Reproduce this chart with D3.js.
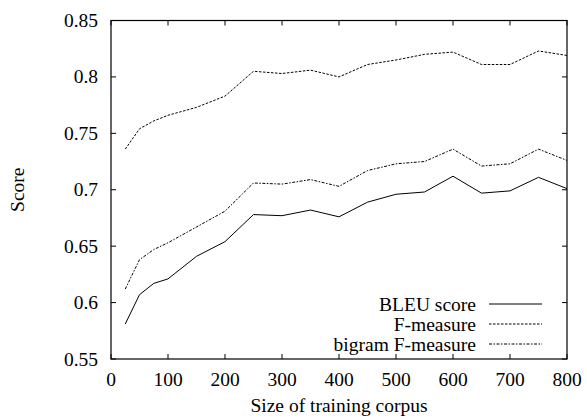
<!DOCTYPE html>
<html>
<head>
<meta charset="utf-8">
<script src="https://cdn.jsdelivr.net/npm/d3@7"></script>
<style>
  body { margin: 0; background: #fff; }
</style>
</head>
<body>
<script>
const WIDTH = 587;
const HEIGHT = 419;

// tamaños de corpus (eje x)
const sizes = [25, 50, 75, 100, 150, 200, 250, 300, 350, 400, 450, 500, 550, 600, 650, 700, 750, 800];

const bleu = [0.581, 0.607, 0.617, 0.621, 0.641, 0.654, 0.678, 0.677, 0.682, 0.676, 0.689, 0.696, 0.698, 0.712, 0.697, 0.699, 0.711, 0.701];
const fmeasure = [0.736, 0.754, 0.761, 0.766, 0.773, 0.783, 0.805, 0.803, 0.806, 0.800, 0.811, 0.815, 0.820, 0.822, 0.811, 0.811, 0.823, 0.819];
const bigram = [0.612, 0.638, 0.647, 0.653, 0.667, 0.681, 0.706, 0.705, 0.709, 0.703, 0.717, 0.723, 0.725, 0.736, 0.721, 0.723, 0.736, 0.726];

const xTicks = [0, 100, 200, 300, 400, 500, 600, 700, 800];
const yTicks = [0.55, 0.6, 0.65, 0.7, 0.75, 0.8, 0.85];

const series = [
  { name: 'BLEU score', values: bleu, dash: null },
  { name: 'F-measure', values: fmeasure, dash: '2.5,1.5' },
  { name: 'bigram F-measure', values: bigram, dash: '3,1.5,1.5,1.5' }
];

const margin = { left: 111, right: 20, top: 20.5, bottom: 60 };
const FONT = "'Liberation Serif'";
const fontSize = '19.5px';
const tick = 5;

let svg = d3.select('body').append('svg')
  .attr('width', WIDTH)
  .attr('height', HEIGHT);

let x = d3.scaleLinear().domain([0, 800]).range([margin.left, WIDTH - margin.right]);
let y = d3.scaleLinear().domain([0.55, 0.85]).range([HEIGHT - margin.bottom, margin.top]);

// ticks en los cuatro lados
let axes = svg.append('g').attr('stroke', '#000').attr('stroke-width', 1);
xTicks.forEach(t => {
  axes.append('line').attr('x1', x(t)).attr('x2', x(t)).attr('y1', y(0.55)).attr('y2', y(0.55) - tick);
  axes.append('line').attr('x1', x(t)).attr('x2', x(t)).attr('y1', y(0.85)).attr('y2', y(0.85) + tick);
});
yTicks.forEach(t => {
  axes.append('line').attr('x1', x(0)).attr('x2', x(0) + tick).attr('y1', y(t)).attr('y2', y(t));
  axes.append('line').attr('x1', x(800)).attr('x2', x(800) - tick).attr('y1', y(t)).attr('y2', y(t));
});

svg.selectAll('.xlab').data(xTicks).enter().append('text')
  .attr('x', d => x(d))
  .attr('y', y(0.55) + 27)
  .attr('text-anchor', 'middle')
  .style('font-family', FONT)
  .style('font-size', fontSize)
  .text(d => d);

svg.selectAll('.ylab').data(yTicks).enter().append('text')
  .attr('x', x(0) - 13)
  .attr('y', d => y(d) + 6.5)
  .attr('text-anchor', 'end')
  .style('font-family', FONT)
  .style('font-size', fontSize)
  .text(d => d);

// lineas
let line = d3.line()
  .x((d, i) => x(sizes[i]))
  .y(d => y(d));

series.forEach(s => {
  svg.append('path')
    .datum(s.values)
    .attr('d', line)
    .attr('fill', 'none')
    .attr('stroke', '#000')
    .attr('stroke-width', 1)
    .attr('stroke-dasharray', s.dash);
});

// marco
svg.append('rect')
  .attr('x', x(0)).attr('y', y(0.85))
  .attr('width', x(800) - x(0)).attr('height', y(0.55) - y(0.85))
  .attr('fill', 'none').attr('stroke', '#000').attr('stroke-width', 1.2);

// leyenda
series.forEach((s, i) => {
  let yy = 304 + i * 20;
  svg.append('text')
    .attr('x', 476).attr('y', yy + 6.5)
    .attr('text-anchor', 'end')
    .style('font-family', FONT)
    .style('font-size', fontSize)
    .text(s.name);
  svg.append('line')
    .attr('x1', 489).attr('x2', 542).attr('y1', yy).attr('y2', yy)
    .attr('stroke', '#000').attr('stroke-width', 1)
    .attr('stroke-dasharray', s.dash);
});

// titulos de ejes
svg.append('text')
  .attr('x', x(400)).attr('y', 412)
  .attr('text-anchor', 'middle')
  .style('font-family', FONT)
  .style('font-size', fontSize)
  .text('Size of training corpus');

svg.append('text')
  .attr('transform', 'translate(24,' + y(0.7) + ') rotate(-90)')
  .attr('text-anchor', 'middle')
  .style('font-family', FONT)
  .style('font-size', fontSize)
  .text('Score');
</script>
</body>
</html>
